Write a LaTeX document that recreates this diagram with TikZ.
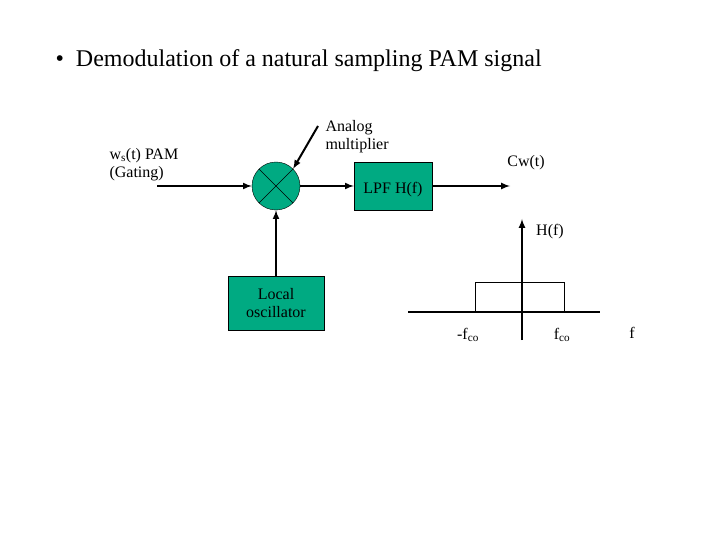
\documentclass[tikz,border=0pt]{standalone}
\usepackage{fontspec}
\setmainfont{Liberation Serif}
\usetikzlibrary{positioning}
\definecolor{boxgreen}{RGB}{0,170,130}
\tikzset{
  block/.style={draw, fill=boxgreen, font=\fontsize{16}{18}\selectfont, align=center, inner sep=0pt},
  lbl/.style={font=\fontsize{16}{18}\selectfont, align=left},
  sig/.style={line width=2pt, -latex},
}
\begin{document}
\begin{tikzpicture}[x=1pt, y=-1pt]
  \useasboundingbox (0,0) rectangle (720,540);
  % title
  \node[font=\fontsize{24}{26}\selectfont, anchor=west] (title) at (52,61) {\textbullet\ \ Demodulation of a natural sampling PAM signal};
  % blocks
  \node[block, circle, minimum size=48pt] (mult) at (276,186) {};
  \draw (mult.45) -- (mult.225) (mult.135) -- (mult.315);
  \node[block, minimum width=78pt, minimum height=48pt] (lpf) at (393,186) {};
  \node[lbl, anchor=south] at (393,200) {LPF H(f)};
  \node[block, minimum width=96pt, minimum height=54pt] (osc) at (276,303) {Local\\oscillator};
  % labels and free ends
  \coordinate (in) at (157,186);
  \coordinate (out) at (510,186);
  \coordinate (tip) at (318,126);
  \node[lbl, anchor=south west] (inlbl) at (106,184) {w\textsubscript{s}(t) PAM\\(Gating)};
  \node[lbl, anchor=south west] (multlbl) at (322,156) {Analog\\multiplier};
  \node[lbl] (outlbl) at (526,163) {Cw(t)};
  % connectors
  \draw[sig] (in) -- (mult);
  \draw[sig] (mult) -- (lpf);
  \draw[sig] (lpf) -- (out);
  \draw[sig] (osc) -- (mult);
  \draw[sig] (tip) -- (mult.north east);
  % H(f) sketch
  \coordinate (xl) at (408,312);
  \coordinate (xr) at (600,312);
  \coordinate (yb) at (522,340);
  \coordinate (yt) at (522,219);
  \draw[line width=2pt] (xl) -- (xr);
  \draw[sig] (yb) -- (yt);
  \draw (475,312) |- (564,282) -- (564,312);
  \node[lbl] (hlbl) at (550,232) {H(f)};
  \node[lbl] (nfc) at (468,335) {-f\textsubscript{co}};
  \node[lbl] (pfc) at (562,335) {f\textsubscript{co}};
  \node[lbl] (flbl) at (632,333) {f};
\end{tikzpicture}
\end{document}
